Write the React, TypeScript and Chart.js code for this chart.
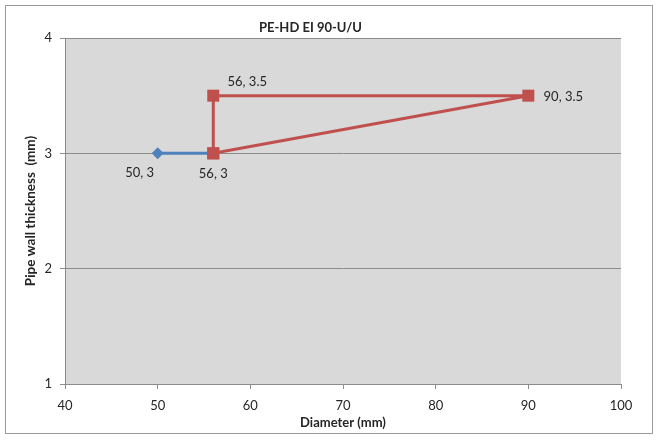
import React, { useEffect, useRef } from 'react';
import { Chart, registerables } from 'chart.js';

Chart.register(...registerables);

const chartTitle = 'PE-HD EI 90-U/U';
const xAxisTitle = 'Diameter (mm)';
const yAxisTitle = 'Pipe wall thickness  (mm)';

const xMin = 40;
const xMax = 100;
const xStep = 10;
const yMin = 1;
const yMax = 4;
const yStep = 1;

const blueX = [50, 56];
const blueY = [3, 3];
const redX = [56, 56, 90, 56];
const redY = [3, 3.5, 3.5, 3];

// which points carry a data label
const blueShowLabel = [true, false];
const redShowLabel = [true, true, true, false];

// label offsets (style only) relative to point position
const blueLabelOffset = [[-18, 19], [0, 0]];
const redLabelOffset = [[0, 20], [34, -14], [35, 1], [0, 0]];

const FONT = 'Lato, "Open Sans", "Liberation Sans", sans-serif';
const TEXT = '#262626';
const GRID = '#8c8c8c';

const frameAndLabels = {
  id: 'frameAndLabels',
  beforeDraw(chart: any) {
    const { ctx, chartArea: a, width, height } = chart;
    ctx.save();
    ctx.fillStyle = '#ffffff';
    ctx.fillRect(0, 0, width, height);
    ctx.strokeStyle = '#9a9a9a';
    ctx.lineWidth = 1;
    ctx.strokeRect(5.5, 5.5, width - 11, height - 13);
    ctx.fillStyle = '#d9d9d9';
    ctx.fillRect(a.left, a.top, a.right - a.left, a.bottom - a.top);
    ctx.restore();
  },
  afterDatasetsDraw(chart: any) {
    const { ctx } = chart;
    ctx.save();
    ctx.font = `13px ${FONT}`;
    ctx.fillStyle = TEXT;
    ctx.textAlign = 'center';
    ctx.textBaseline = 'middle';
    chart.data.datasets.forEach((ds: any, di: number) => {
      const meta = chart.getDatasetMeta(di);
      meta.data.forEach((pt: any, i: number) => {
        if (!ds.showLabel[i]) return;
        const raw = ds.data[i];
        const [dx, dy] = ds.labelOffset[i];
        ctx.fillText(`${raw.x}, ${raw.y}`, pt.x + dx, pt.y + dy);
      });
    });
    ctx.restore();
  },
};

export default function App() {
  const ref = useRef<HTMLCanvasElement | null>(null);

  useEffect(() => {
    if (!ref.current) return;
    const chart = new Chart(ref.current, {
      type: 'scatter',
      data: {
        datasets: [
          {
            data: blueX.map((x, i) => ({ x, y: blueY[i] })),
            order: 1,
            showLine: true,
            borderColor: '#4f81bd',
            backgroundColor: '#4f81bd',
            borderWidth: 3,
            pointStyle: 'rectRot',
            pointRadius: 6,
            pointBorderWidth: 0,
            showLabel: blueShowLabel,
            labelOffset: blueLabelOffset,
          } as any,
          {
            data: redX.map((x, i) => ({ x, y: redY[i] })),
            order: 0,
            showLine: true,
            borderColor: '#c0504d',
            backgroundColor: '#c0504d',
            borderWidth: 3,
            pointStyle: 'rect',
            pointRadius: 8.5,
            pointBorderWidth: 0,
            showLabel: redShowLabel,
            labelOffset: redLabelOffset,
          } as any,
        ],
      },
      options: {
        animation: false,
        responsive: false,
        layout: { padding: { top: 12, right: 37, bottom: 0, left: 0 } },
        plugins: {
          legend: { display: false },
          tooltip: { enabled: false },
          title: {
            display: true,
            text: chartTitle,
            color: TEXT,
            font: { family: FONT, size: 13, weight: 'bold' },
            padding: { top: 8, bottom: 2.4 },
          },
        },
        scales: {
          x: {
            type: 'linear',
            min: xMin,
            max: xMax,
            ticks: { stepSize: xStep, color: TEXT, font: { family: FONT, size: 13 }, padding: 9 },
            grid: { drawOnChartArea: false, drawTicks: true, tickLength: 5, color: GRID },
            border: { display: true, color: GRID, width: 1 },
            title: {
              display: true,
              text: xAxisTitle,
              color: TEXT,
              font: { family: FONT, size: 13, weight: 'bold' },
              padding: { top: 0, bottom: 10.2 },
            },
            afterFit(scale: any) {
              scale.height = 57;
            },
          },
          y: {
            type: 'linear',
            min: yMin,
            max: yMax,
            ticks: { stepSize: yStep, color: TEXT, font: { family: FONT, size: 13 }, padding: 8 },
            grid: { drawOnChartArea: true, drawTicks: true, tickLength: 5, color: GRID },
            border: { display: true, color: GRID, width: 1 },
            title: {
              display: true,
              text: yAxisTitle,
              color: TEXT,
              font: { family: FONT, size: 13.5, weight: 'bold' },
              padding: { top: 23, bottom: 0 },
            },
            afterFit(scale: any) {
              scale.width = 65;
            },
          },
        },
      } as any,
      plugins: [frameAndLabels],
    });
    return () => chart.destroy();
  }, []);

  return (
    <div style={{ position: 'absolute', left: 0, top: 0, width: 658, height: 441 }}>
      <canvas ref={ref} width={658} height={441} style={{ display: 'block' }} />
    </div>
  );
}
